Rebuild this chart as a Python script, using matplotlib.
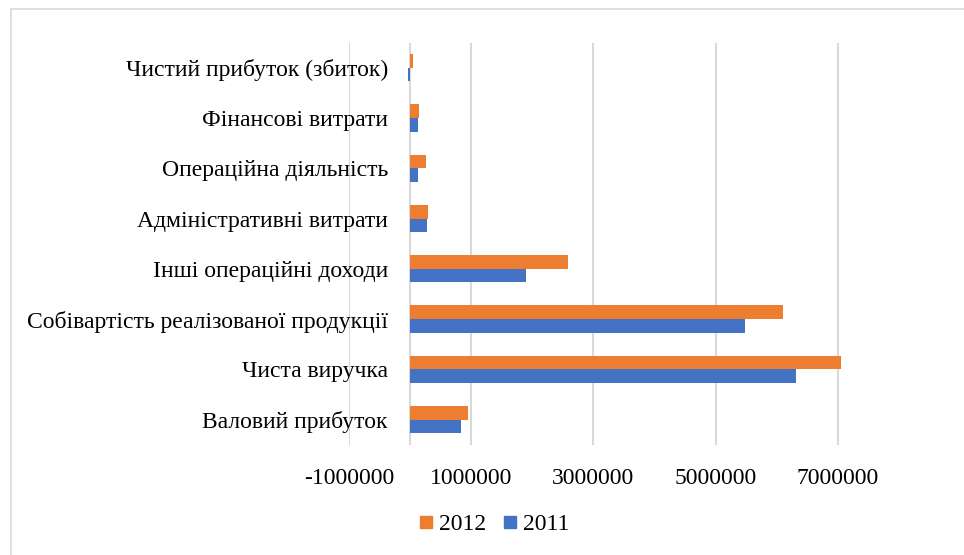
import numpy as np
import matplotlib.pyplot as plt
from matplotlib.lines import Line2D

plt.rcParams["font.family"] = ["Liberation Serif", "DejaVu Serif"]

# ── Data ──────────────────────────────────────────────────────────────────────
categories = [
    "Валовий прибуток",
    "Чиста виручка",
    "Собівартість реалізованої продукції",
    "Інші операційні доходи",
    "Адміністративні витрати",
    "Операційна діяльність",
    "Фінансові витрати",
    "Чистий прибуток (збиток)",
]
v2011 = [830000, 6320000, 5480000, 1890000, 270000, 125000, 125000, -30000]
v2012 = [940000, 7060000, 6110000, 2590000, 300000, 260000, 150000, 40000]
xticks = [-1000000, 1000000, 3000000, 5000000, 7000000]

C2011 = "#4472C4"
C2012 = "#ED7D31"
GRID = "#D9D9D9"
FS = 17

# ── Chart ─────────────────────────────────────────────────────────────────────
fig = plt.figure(figsize=(9.64, 5.55), dpi=100)
ax = fig.add_axes([0.362, 0.1986, 0.5705, 0.7248])

y = np.arange(len(categories))
h = 0.27
ax.barh(y - h / 2, v2011, height=h, color=C2011, edgecolor="none", zorder=3)
ax.barh(y + h / 2, v2012, height=h, color=C2012, edgecolor="none", zorder=3)

ax.set_xlim(-1000000, 8000000)
ax.set_ylim(-0.5, len(categories) - 0.5)
ax.set_xticks(xticks)
ax.set_xticklabels([f"{t}" for t in xticks], fontsize=FS)
ax.set_yticks(y)
ax.set_yticklabels(categories, fontsize=FS)
ax.tick_params(axis="both", length=0)
# category labels sit just left of the zero line, over the negative range
ax.tick_params(axis="y", pad=-28)
ax.tick_params(axis="x", pad=16.5)

for s in ax.spines.values():
    s.set_visible(False)
ax.grid(axis="x", color=GRID, linewidth=1.5, zorder=0)
ax.axvline(0, color=GRID, linewidth=1.5, zorder=2)

handles = [
    Line2D([], [], marker="s", linestyle="none", markersize=8.8, color=C2012),
    Line2D([], [], marker="s", linestyle="none", markersize=8.8, color=C2011),
]
fig.legend(handles, ["2012", "2011"], loc="center", ncol=2, frameon=False,
           fontsize=FS, bbox_to_anchor=(494 / 964, 1 - 524 / 555),
           handlelength=0.6, handletextpad=0.25, columnspacing=0.7)

# outer chart border
fig.add_artist(Line2D([10.5 / 964, 10.5 / 964], [0, 1 - 9 / 555],
                      transform=fig.transFigure, color=GRID, linewidth=1.2))
fig.add_artist(Line2D([10.5 / 964, 1], [1 - 9 / 555, 1 - 9 / 555],
                      transform=fig.transFigure, color=GRID, linewidth=1.2))

fig.savefig("out.png", dpi=100, facecolor="white")
